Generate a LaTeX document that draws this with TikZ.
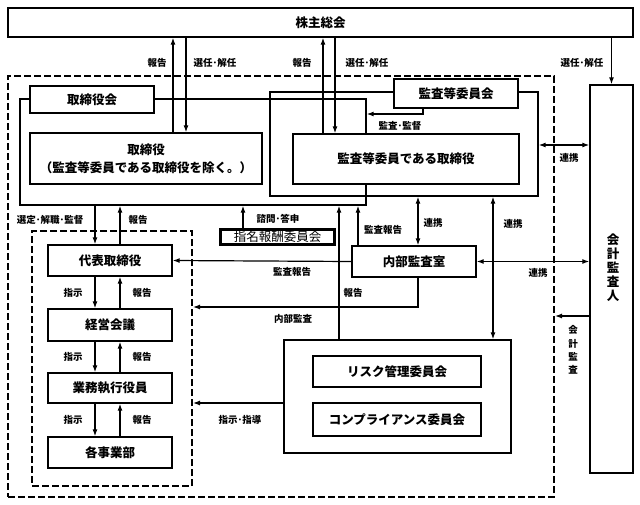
\documentclass[tikz,border=0pt]{standalone}
\usepackage{fontspec}
\usepackage{tikz}
\usetikzlibrary{arrows.meta}
\newfontfamily\jpfont{Noto Sans CJK JP}
\tikzset{
  box/.style={draw, fill=white, line width=1.4pt, inner sep=0pt, align=center,
    font=\jpfont\bfseries\fontsize{12.5}{18}\selectfont},
  outline/.style={draw, line width=1.4pt, inner sep=0pt},
  dashbox/.style={draw, line width=2pt, dash pattern=on 7pt off 3pt, inner sep=0pt},
  lbl/.style={inner sep=0pt, align=center, font=\jpfont\bfseries\fontsize{9.5}{13.3}\selectfont},
  conn/.style={line width=1.2pt},
  arr/.style={conn, -{Latex[length=7pt,width=5pt]}},
  darr/.style={conn, {Latex[length=7pt,width=5pt]}-{Latex[length=7pt,width=5pt]}}
}
\begin{document}
\begin{tikzpicture}[x=1pt,y=-1pt]
\path[use as bounding box,fill=white] (0,0) rectangle (640,504);

\node[dashbox, minimum width=546pt, minimum height=421pt] (outer) at (281,286.5) {};
\node[dashbox, minimum width=160pt, minimum height=255pt] (inner) at (112,358.5) {};
\node[outline, minimum width=346pt, minimum height=106pt] (torikaiout) at (193,152) {};
\node[outline, minimum width=268pt, minimum height=104pt] (kansaout) at (404,144) {};
\node[outline, minimum width=227pt, minimum height=113pt] (riskout) at (397.5,396.5) {};

\node[box, minimum width=625pt, minimum height=29pt] (kabu) at (320.5,22.5) {株主総会};
\node[box, minimum width=124pt, minimum height=27pt] (torikai) at (92,99.5) {取締役会};
\node[box, minimum width=232pt, minimum height=51pt] (tori) at (146,158.5) {取締役\\（監査等委員である取締役を除く。）};
\node[box, minimum width=124pt, minimum height=29pt] (kansakai) at (456,93.5) {監査等委員会};
\node[box, minimum width=226pt, minimum height=50pt] (kansatori) at (406,159) {監査等委員である取締役};
\node[box, minimum width=43pt, minimum height=388pt] (kaikei) at (611.5,279) {};
\node[inner sep=0pt, align=center, font=\jpfont\bfseries\fontsize{12.5}{14}\selectfont] (kaikeitxt) at (613,268) {会\\計\\監\\査\\人};
\node[box, minimum width=124pt, minimum height=31pt] (daihyo) at (110,260.5) {代表取締役};
\node[box, minimum width=124pt, minimum height=32pt] (keiei) at (110,325) {経営会議};
\node[box, minimum width=124pt, minimum height=30pt] (gyomu) at (110,388) {業務執行役員};
\node[box, minimum width=124pt, minimum height=31pt] (jigyo) at (110,452.5) {各事業部};
\node[box, minimum width=124pt, minimum height=31pt] (naibu) at (414,261.5) {内部監査室};
\node[box, line width=3pt, minimum width=114pt, minimum height=15pt, font=\jpfont\fontsize{12.5}{14}\selectfont] (shimei) at (277.5,237) {指名報酬委員会};
\node[box, minimum width=168pt, minimum height=31pt] (risk) at (397,371.5) {リスク管理委員会};
\node[box, minimum width=168pt, minimum height=33pt] (comp) at (397,419.5) {コンプライアンス委員会};

\coordinate (x95) at (95,0);
\coordinate (x120) at (120,0);
\coordinate (x173) at (173,0);
\coordinate (x186) at (186,0);
\coordinate (x243) at (243,0);
\coordinate (x323) at (323,0);
\coordinate (x335) at (335,0);
\coordinate (x339) at (339,0);
\coordinate (x358) at (358,0);
\coordinate (x418) at (418,0);
\coordinate (x493) at (493,0);
\coordinate (kanto) at (423,114);
\coordinate (y145) at (0,145);
\coordinate (naisa) at (418,307);
\coordinate (y316) at (0,316);
\coordinate (y403) at (0,403);

\draw[arr] (tori.north -| x173) -- (kabu.south -| x173);
\draw[arr] (kabu.south -| x186) -- (tori.north -| x186);
\draw[arr] (kansatori.north -| x323) -- (kabu.south -| x323);
\draw[arr] (kabu.south -| x335) -- (kansatori.north -| x335);
\draw[arr] (kabu.south -| kaikei) -- (kaikei.north);
\draw[arr] (kansakai.south -| kanto) |- (torikaiout.east |- kanto);
\draw[darr] (kansaout.east |- y145) -- (kaikei.west |- y145);

\draw[arr] (torikaiout.south -| x95) -- (daihyo.north -| x95);
\draw[arr] (daihyo.north -| x120) -- (torikaiout.south -| x120);
\draw[arr] (daihyo.south -| x95) -- (keiei.north -| x95);
\draw[arr] (keiei.north -| x120) -- (daihyo.south -| x120);
\draw[arr] (keiei.south -| x95) -- (gyomu.north -| x95);
\draw[arr] (gyomu.north -| x120) -- (keiei.south -| x120);
\draw[arr] (gyomu.south -| x95) -- (jigyo.north -| x95);
\draw[arr] (jigyo.north -| x120) -- (gyomu.south -| x120);

\draw[arr] (shimei.north -| x243) -- (torikaiout.south -| x243);
\draw[arr] (riskout.north -| x339) -- (torikaiout.south -| x339);
\draw[arr] (naibu.north -| x358) -- (torikaiout.south -| x358);
\draw[darr] (kansaout.south -| x418) -- (naibu.north -| x418);
\draw[darr] (kansaout.south -| x493) -- (riskout.north -| x493);
\draw[arr] (naibu.west) -- (daihyo.east);
\draw[arr] (naibu.south -| naisa) |- (inner.east |- naisa);
\draw[darr] (naibu.east) -- (kaikei.west |- naibu.east);
\draw[arr] (kaikei.west |- y316) -- (outer.east |- y316);
\draw[arr] (riskout.west |- y403) -- (inner.east |- y403);

\node[lbl] (l1) at (157,63) {報告};
\node[lbl] (l2) at (215,63) {選任･解任};
\node[lbl] (l3) at (302,63) {報告};
\node[lbl] (l4) at (367,63) {選任･解任};
\node[lbl] (l5) at (582,63) {選任･解任};
\node[lbl] (l6) at (400,126) {監査･監督};
\node[lbl] (l7) at (569,158) {連携};
\node[lbl] (l8) at (50,220) {選定･解職･監督};
\node[lbl] (l9) at (138,220) {報告};
\node[lbl] (l10) at (278,219) {諮問･答申};
\node[lbl] (l11) at (383,230) {監査報告};
\node[lbl] (l12) at (433,223) {連携};
\node[lbl] (l13) at (513,224) {連携};
\node[lbl] (l14) at (292,272) {監査報告};
\node[lbl] (l15) at (538,273) {連携};
\node[lbl] (l16) at (353,293) {報告};
\node[lbl] (l17) at (293,319) {内部監査};
\node[lbl] (l18) at (73,293) {指示};
\node[lbl] (l19) at (142,293) {報告};
\node[lbl] (l20) at (73,357) {指示};
\node[lbl] (l21) at (142,357) {報告};
\node[lbl] (l22) at (73,420) {指示};
\node[lbl] (l23) at (142,420) {報告};
\node[lbl] (l24) at (240,420) {指示･指導};
\node[lbl] (l25) at (573,350) {会\\計\\監\\査};
\end{tikzpicture}
\end{document}
